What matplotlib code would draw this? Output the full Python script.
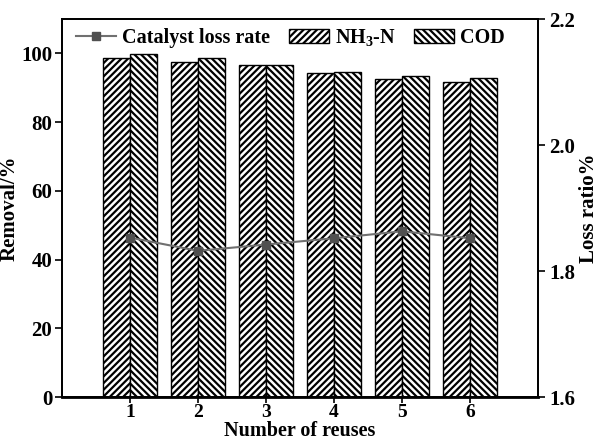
import numpy as np
import matplotlib
matplotlib.use('Agg')
import matplotlib.pyplot as plt
from matplotlib.lines import Line2D
from matplotlib.patches import Patch

plt.rcParams['font.family'] = 'Liberation Serif'
plt.rcParams['font.weight'] = 'bold'
plt.rcParams['mathtext.fontset'] = 'custom'
plt.rcParams['mathtext.rm'] = 'Liberation Serif:bold'
plt.rcParams['mathtext.bf'] = 'Liberation Serif:bold'
plt.rcParams['hatch.linewidth'] = 1.6

reuses = [1, 2, 3, 4, 5, 6]
nh3n = [98.7, 97.4, 96.5, 94.3, 92.5, 91.8]
cod = [99.9, 98.6, 96.5, 94.6, 93.5, 92.8]
loss = [1.853, 1.832, 1.842, 1.852, 1.863, 1.852]

fig = plt.figure(figsize=(6.01, 4.44), dpi=100)
ax = fig.add_axes([62/601, 1 - 397/444, 476/601, 378/444])

x = np.array(reuses)
w = 0.4
ax.bar(x - w/2, nh3n, w, color='white', edgecolor='black', linewidth=1.0, hatch='/////')
ax.bar(x + w/2, cod, w, color='white', edgecolor='black', linewidth=1.0, hatch='\\\\\\\\\\')
ax.set_xlim(0, 7)
ax.set_ylim(0, 110)
ax.set_xticks(reuses)
ax.set_yticks([0, 20, 40, 60, 80, 100])
ax.set_xlabel('Number of reuses', fontsize=14.5, fontweight='bold', labelpad=0)
ax.set_ylabel('Removal/%', fontsize=15, fontweight='bold', labelpad=1)
ax.tick_params(axis='y', labelsize=15, width=1.2, length=5, pad=2)
ax.tick_params(axis='x', labelsize=14, width=1.2, length=4, pad=1)

ax2 = ax.twinx()
ax2.plot(x, loss, color='#707070', linewidth=1.5, marker='s', markersize=6,
         markerfacecolor='#505050', markeredgecolor='#505050')
ax2.set_ylim(1.6, 2.2)
ax2.set_yticks([1.6, 1.8, 2.0, 2.2])
ax2.set_yticklabels(['1.6', '1.8', '2.0', '2.2'])
ax2.set_ylabel('Loss ratio%', fontsize=15, fontweight='bold', labelpad=3)
ax2.tick_params(labelsize=15, width=1.2, length=5, pad=3)

for a in (ax, ax2):
    for s in a.spines.values():
        s.set_linewidth(1.3)
ax.spines['bottom'].set_linewidth(2)

handles = [
    Line2D([], [], color='#707070', linewidth=1.5, marker='s', markersize=6,
           markerfacecolor='#505050', markeredgecolor='#505050'),
    Patch(facecolor='white', edgecolor='black', hatch='/////'),
    Patch(facecolor='white', edgecolor='black', hatch='\\\\\\\\\\'),
]
labels = ['Catalyst loss rate', 'NH$_3$-N', 'COD']
ax2.legend(handles, labels, loc='upper left', ncol=3, frameon=False,
           fontsize=14.5, bbox_to_anchor=(0.0, 1.015), handlelength=2.0,
           handletextpad=0.3, columnspacing=0.9, borderaxespad=0.3)

fig.savefig('out.png', dpi=100)
